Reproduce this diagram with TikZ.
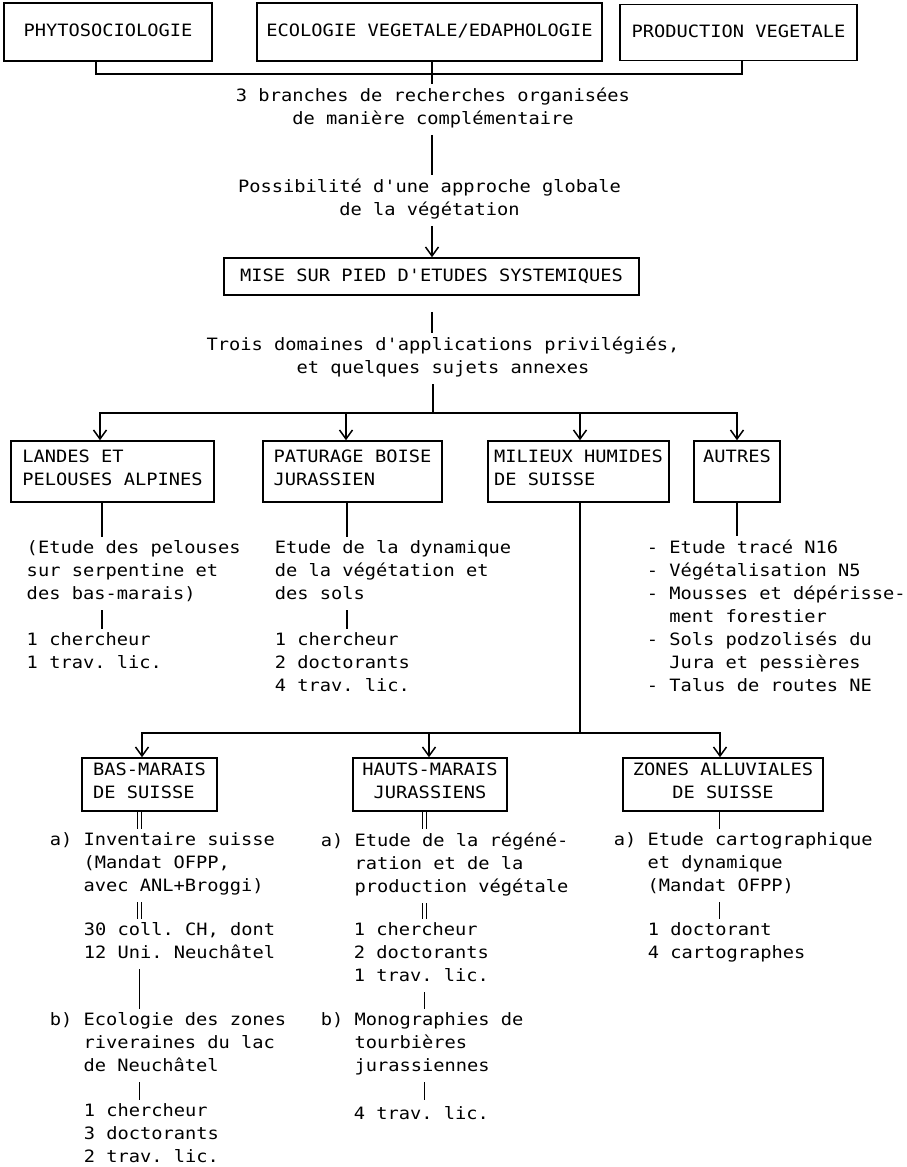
\documentclass[tikz,border=0pt]{standalone}
\usepackage{fontspec}
\newfontfamily\printfont[FakeStretch=1.1]{DejaVu Sans Mono}
\usetikzlibrary{arrows.meta}
\newcommand\marge{\phantom{a) }}
\newcommand\tiret{\phantom{- }}

\tikzset{
  box/.style={draw, line width=1.5pt, inner xsep=4pt, inner ysep=0pt, align=left,
    execute at begin node=\strut, execute at end node=\strut},
  txt/.style={inner xsep=0pt, inner ysep=3pt, align=left, anchor=north west,
    execute at begin node=\strut, execute at end node=\strut},
  arr/.style={-{Straight Barb[length=9pt,width=13pt,line width=1.5pt]}},
  dbl/.style={double, double distance=3pt, line width=1.4pt}
}

\begin{document}
\begin{tikzpicture}[x=1pt, y=-1pt, line width=1.5pt,
    font=\printfont\fontsize{17}{23}\selectfont\frenchspacing]
  \useasboundingbox (0,0) rectangle (907,1167);

  % trois branches
  \node[box, minimum width=208pt, minimum height=58pt] (phyto) at (108,32) {PHYTOSOCIOLOGIE};
  \node[box, minimum width=345pt, minimum height=58pt] (ecol) at (429.5,32) {ECOLOGIE VEGETALE/EDAPHOLOGIE};
  \node[box, minimum width=237pt, minimum height=56pt] (prod) at (738.5,32.5) {PRODUCTION VEGETALE};
  \coordinate (bus1) at (432,74);

  \node[txt, align=center, anchor=north] (branches) at (433,84)
    {3 branches de recherches organisées\\de manière complémentaire};
  \node[txt, align=center, anchor=north] (possib) at (429.5,175)
    {Possibilité d'une approche globale\\de la végétation};
  \node[box, minimum width=415pt, minimum height=37pt] (mise) at (431.5,276.5)
    {MISE SUR PIED D'ETUDES SYSTEMIQUES};
  \node[txt, align=center, anchor=north] (trois) at (443,333)
    {Trois domaines d'applications privilégiés,\\et quelques sujets annexes};
  \coordinate (bus2) at (433,413);

  % domaines
  \node[box, minimum width=203pt, minimum height=61pt] (landes) at (112.5,471.5)
    {LANDES ET\\PELOUSES ALPINES};
  \node[box, minimum width=179pt, minimum height=61pt] (patur) at (352.5,471.5)
    {PATURAGE BOISE\\JURASSIEN};
  \node[box, minimum width=181pt, minimum height=61pt] (milieux) at (578.5,471.5)
    {MILIEUX HUMIDES\\DE SUISSE};
  \node[box, minimum width=86pt, minimum height=61pt] (autres) at (737,471.5)
    {AUTRES\\};

  \node[txt] (landesTxt) at (26,537)
    {(Etude des pelouses\\sur serpentine et\\des bas-marais)};
  \node[txt] (landesStaff) at (26,629) {1 chercheur\\1 trav. lic.};
  \node[txt] (paturTxt) at (274,537)
    {Etude de la dynamique\\de la végétation et\\des sols};
  \node[txt] (paturStaff) at (274,629) {1 chercheur\\2 doctorants\\4 trav. lic.};
  \node[txt] (autresTxt) at (646,536)
    {- Etude tracé N16\\- Végétalisation N5\\- Mousses et dépérisse-\\\tiret ment forestier\\
     - Sols podzolisés du\\\tiret Jura et pessières\\- Talus de routes NE};
  \coordinate (bus3) at (580,733);

  % milieux humides
  \node[box, minimum width=135pt, minimum height=53pt] (bas) at (149.5,784.5)
    {BAS-MARAIS\\DE SUISSE};
  \node[box, align=center, minimum width=154pt, minimum height=53pt] (hauts) at (430,784.5)
    {HAUTS-MARAIS\\JURASSIENS};
  \node[box, align=center, minimum width=200pt, minimum height=53pt] (zones) at (723,784.5)
    {ZONES ALLUVIALES\\DE SUISSE};

  \node[txt] (basA) at (49,829)
    {a) Inventaire suisse\\\marge(Mandat OFPP,\\\marge avec ANL+Broggi)};
  \node[txt] (basB) at (83,919) {30 coll. CH, dont\\12 Uni. Neuchâtel};
  \node[txt] (basC) at (49,1009)
    {b) Ecologie des zones\\\marge riveraines du lac\\\marge de Neuchâtel};
  \node[txt] (basD) at (83,1100) {1 chercheur\\3 doctorants\\2 trav. lic.};

  \node[txt] (hautsA) at (320,829)
    {a) Etude de la régéné-\\\marge ration et de la\\\marge production végétale};
  \node[txt] (hautsB) at (353,919) {1 chercheur\\2 doctorants\\1 trav. lic.};
  \node[txt] (hautsC) at (320,1009)
    {b) Monographies de\\\marge tourbières\\\marge jurassiennes};
  \node[txt] (hautsD) at (353,1100) {4 trav. lic.};

  \node[txt] (zonesA) at (613,829)
    {a) Etude cartographique\\\marge et dynamique\\\marge (Mandat OFPP)};
  \node[txt] (zonesB) at (647,919) {1 doctorant\\4 cartographes};

  % liaisons
  \draw ([xshift=-12pt]phyto.south) |- (bus1) -| ([xshift=3.5pt]prod.south);
  \draw (ecol.south -| bus1) -- (branches.north -| bus1);
  \draw (branches.south -| bus1) -- (possib.north -| bus1);
  \draw[arr] (possib.south -| bus1) -- (mise.north -| bus1);
  \draw[shorten <=16pt] (mise.south -| bus1) -- (trois.north -| bus1);
  \draw (trois.south -| bus2) -- (bus2);
  \draw[arr] (bus2) -| ([xshift=-12.5pt]landes.north);
  \draw[arr] (bus2) -| ([xshift=-6.5pt]patur.north);
  \draw[arr] (bus2) -| ([xshift=1.5pt]milieux.north);
  \draw[arr] (bus2) -| (autres.north);

  \draw ([xshift=-10.5pt]landes.south) coordinate (colL) -- (colL |- landesTxt.north);
  \draw (colL |- landesTxt.south) -- (colL |- landesStaff.north);
  \draw ([xshift=-5.5pt]patur.south) coordinate (colP) -- (colP |- paturTxt.north);
  \draw (colP |- paturTxt.south) -- (colP |- paturStaff.north);
  \draw (autres.south) -- (autres.south |- autresTxt.north);

  \draw ([xshift=1.5pt]milieux.south) -- (bus3);
  \draw[arr] (bus3) -| ([xshift=-7.5pt]bas.north);
  \draw[arr] (bus3) -| ([xshift=-1pt]hauts.north);
  \draw[arr] (bus3) -| ([xshift=-3pt]zones.north);

  \draw[dbl] ([xshift=-10pt]bas.south) coordinate (colB) -- (colB |- basA.north);
  \draw[dbl] (colB |- basA.south) -- (colB |- basB.north);
  \draw (colB |- basB.south) -- (colB |- basC.north);
  \draw (colB |- basC.south) -- (colB |- basD.north);

  \draw[dbl] ([xshift=-5.5pt]hauts.south) coordinate (colH) -- (colH |- hautsA.north);
  \draw[dbl] (colH |- hautsA.south) -- (colH |- hautsB.north);
  \draw (colH |- hautsB.south) -- (colH |- hautsC.north);
  \draw (colH |- hautsC.south) -- (colH |- hautsD.north);

  \draw ([xshift=-3.5pt]zones.south) coordinate (colZ) -- (colZ |- zonesA.north);
  \draw (colZ |- zonesA.south) -- (colZ |- zonesB.north);
\end{tikzpicture}
\end{document}
